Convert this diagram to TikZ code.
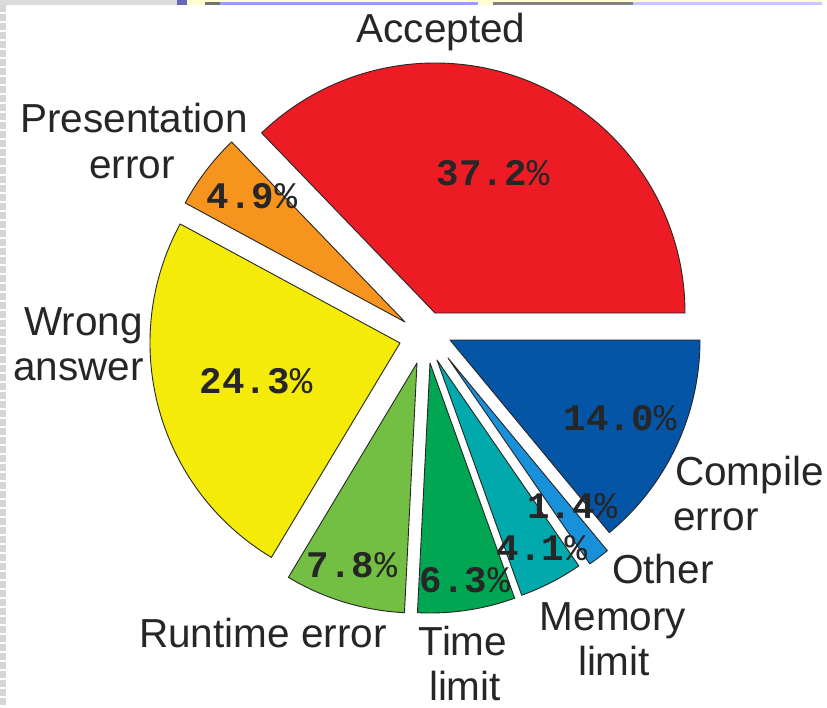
\documentclass[tikz,border=0pt]{standalone}
\usepackage{fontspec}
\setmainfont{Liberation Sans}
\newfontfamily\pctfont{Liberation Mono}
\definecolor{cAcc}{HTML}{ED1C24}
\definecolor{cPres}{HTML}{F7941D}
\definecolor{cWrong}{HTML}{F4EB08}
\definecolor{cRun}{HTML}{72BF44}
\definecolor{cTime}{HTML}{00A651}
\definecolor{cMem}{HTML}{00A9AC}
\definecolor{cOther}{HTML}{1990DA}
\definecolor{cComp}{HTML}{0455A6}
\definecolor{txt}{HTML}{262626}
\newcommand{\pc}{{\mdseries\%}}
\begin{document}
\begin{tikzpicture}[x=1pt,y=-1pt,
  slice/.style={draw=black!85,line width=0.9pt,line join=round},
  lbl/.style={inner sep=0pt,text=txt,font=\fontsize{40.5}{45}\selectfont},
  pct/.style={inner sep=0pt,text=txt,font=\pctfont\bfseries\fontsize{37.5}{40}\selectfont,anchor=base}]
\useasboundingbox (0,0) rectangle (827,707);
\fill[white] (0,0) rectangle (827,707);
% screen artifacts at top and left edge
\fill[black!14] (0,0) rectangle (177,5);
\fill[blue!55!black!60] (177,0) rectangle (187,5);
\fill[yellow!18] (187,0) rectangle (822,5);
\fill[black!55] (205,1.5) rectangle (220,5);
\fill[blue!40] (220,1.5) rectangle (478,5);
\fill[black!50] (493,1.5) rectangle (633,5);
\fill[blue!22] (633,1.5) rectangle (822,5);
\draw[black!16,line width=6pt,dash pattern=on 7pt off 2pt] (3,5) -- (3,707);
% slices: apex, start angle, end angle (math angles), radius 250
\coordinate (aAcc) at (435,313);
\coordinate (aPres) at (405,322);
\coordinate (aWrong) at (400,343);
\coordinate (aRun) at (417,363);
\coordinate (aTime) at (430,363);
\coordinate (aMem) at (437,360);
\coordinate (aOther) at (448,358);
\coordinate (aComp) at (450,340);
\filldraw[slice,fill=cAcc] (aAcc) -- ++(0:250) arc[start angle=0,end angle=-133.92,radius=250] -- cycle;
\filldraw[slice,fill=cPres] (aPres) -- ++(-133.92:250) arc[start angle=-133.92,end angle=-151.56,radius=250] -- cycle;
\filldraw[slice,fill=cWrong] (aWrong) -- ++(-151.56:250) arc[start angle=-151.56,end angle=-239.04,radius=250] -- cycle;
\filldraw[slice,fill=cRun] (aRun) -- ++(-239.04:250) arc[start angle=-239.04,end angle=-267.12,radius=250] -- cycle;
\filldraw[slice,fill=cTime] (aTime) -- ++(-267.12:250) arc[start angle=-267.12,end angle=-289.8,radius=250] -- cycle;
\filldraw[slice,fill=cMem] (aMem) -- ++(-289.8:250) arc[start angle=-289.8,end angle=-304.56,radius=250] -- cycle;
\filldraw[slice,fill=cOther] (aOther) -- ++(-304.56:250) arc[start angle=-304.56,end angle=-309.6,radius=250] -- cycle;
\filldraw[slice,fill=cComp] (aComp) -- ++(-309.6:250) arc[start angle=-309.6,end angle=-360,radius=250] -- cycle;
% percentages
\node[pct] (pAcc) at (493,185) {37.2\pc};
\node[pct] (pPres) at (252,208) {4.9\pc};
\node[pct] (pWrong) at (256,393) {24.3\pc};
\node[pct] (pRun) at (352,577) {7.8\pc};
\node[pct] (pTime) at (465,592) {6.3\pc};
\node[pct] (pMem) at (542,560) {4.1\pc};
\node[pct] (pOther) at (572,518) {1.4\pc};
\node[pct] (pComp) at (620,430) {14.0\pc};
% category labels
\node[lbl,anchor=base] (lAcc) at (441,42) {Accepted};
\node[lbl,anchor=base] (lPres1) at (134,132) {Presentation};
\node[lbl,anchor=base] (lPres2) at (132,178) {error};
\node[lbl,anchor=base east] (lWrong1) at (143,335) {Wrong};
\node[lbl,anchor=base east] (lWrong2) at (144,380) {answer};
\node[lbl,anchor=base] (lRun) at (263,647) {Runtime error};
\node[lbl,anchor=base] (lTime1) at (463,655) {Time};
\node[lbl,anchor=base] (lTime2) at (465,700) {limit};
\node[lbl,anchor=base] (lMem1) at (613,630) {Memory};
\node[lbl,anchor=base] (lMem2) at (614,675) {limit};
\node[lbl,anchor=base west] (lOther) at (612,583) {Other};
\node[lbl,anchor=base west] (lComp1) at (675,485) {Compile};
\node[lbl,anchor=base west] (lComp2) at (673,530) {error};
\end{tikzpicture}
\end{document}
